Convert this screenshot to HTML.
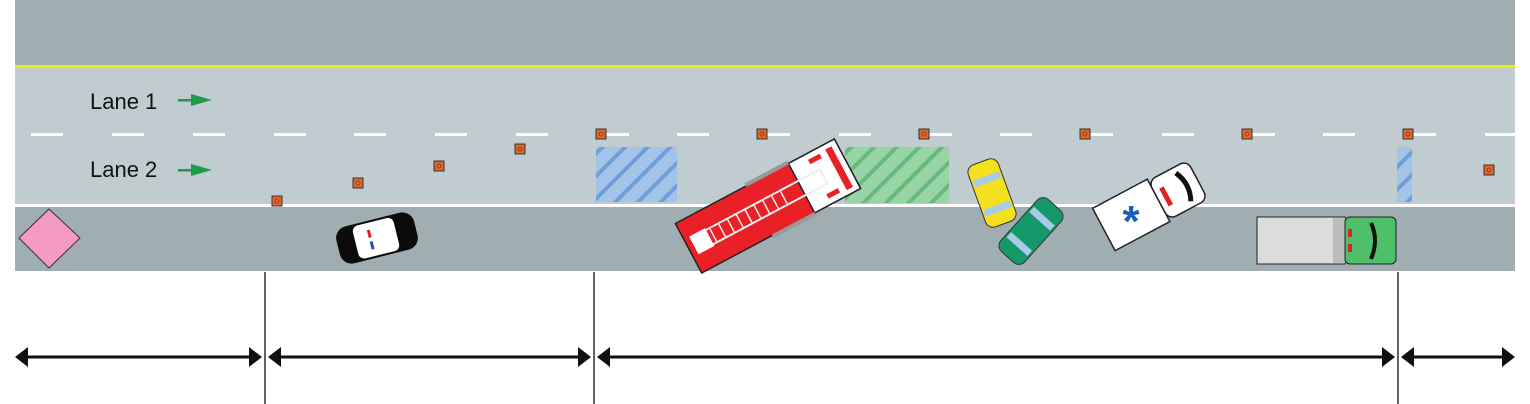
<!DOCTYPE html>
<html><head><meta charset="utf-8"><style>html,body{margin:0;padding:0;background:#fff;}svg{display:block}</style></head>
<body>
<svg width="1530" height="404" viewBox="0 0 1530 404" xmlns="http://www.w3.org/2000/svg">
<defs>
<pattern id="hb" patternUnits="userSpaceOnUse" width="16" height="16" patternTransform="rotate(45)">
<rect width="16" height="16" fill="#a3c4e8"/><rect width="4" height="16" fill="#6f9fd8"/></pattern>
<pattern id="hg" patternUnits="userSpaceOnUse" width="16" height="16" patternTransform="rotate(45)">
<rect width="16" height="16" fill="#98d4a6"/><rect width="4" height="16" fill="#66bb7a"/></pattern>
<g id="cone"><rect x="-5" y="-5" width="10" height="10" fill="#e0662a" stroke="#333" stroke-width="1"/><circle r="2" fill="none" stroke="#8a3a10" stroke-width="0.8"/></g>
</defs>
<rect x="15" y="0" width="1500" height="271" fill="#a0aeb2"/>
<rect x="15" y="65" width="1500" height="3" fill="#f5e90a"/>
<rect x="15" y="68" width="1500" height="136" fill="#c0ccd0"/>
<rect x="15" y="204" width="1500" height="3" fill="#ffffff"/>
<g fill="#fff">
<rect x="31" y="133" width="32" height="3"/><rect x="112" y="133" width="32" height="3"/><rect x="193" y="133" width="32" height="3"/><rect x="274" y="133" width="32" height="3"/><rect x="354" y="133" width="32" height="3"/><rect x="435" y="133" width="32" height="3"/><rect x="516" y="133" width="32" height="3"/><rect x="597" y="133" width="32" height="3"/><rect x="677" y="133" width="32" height="3"/><rect x="758" y="133" width="32" height="3"/><rect x="839" y="133" width="32" height="3"/><rect x="920" y="133" width="32" height="3"/><rect x="1000" y="133" width="32" height="3"/><rect x="1081" y="133" width="32" height="3"/><rect x="1162" y="133" width="32" height="3"/><rect x="1243" y="133" width="32" height="3"/><rect x="1323" y="133" width="32" height="3"/><rect x="1404" y="133" width="32" height="3"/><rect x="1485" y="133" width="30" height="3"/>
</g>
<text x="90" y="109" font-family="Liberation Sans, sans-serif" font-size="22" fill="#111">Lane 1</text>
<text x="90" y="177" font-family="Liberation Sans, sans-serif" font-size="22" fill="#111">Lane 2</text>
<g fill="#1e9a48"><rect x="178" y="99" width="14" height="2.5"/><polygon points="191,94 212,100 191,106"/><rect x="178" y="169" width="14" height="2.5"/><polygon points="191,164 212,170 191,176"/></g>
<polygon points="49,209 80,238 49,268 19,238" fill="#f59ac4" stroke="#333" stroke-width="1"/>
<rect x="596" y="147" width="81" height="55" fill="url(#hb)"/>
<rect x="845" y="147" width="104" height="56" fill="url(#hg)"/>
<rect x="1397" y="147" width="15" height="55" fill="url(#hb)"/>
<use href="#cone" x="277" y="201"/><use href="#cone" x="358" y="183"/><use href="#cone" x="439" y="166"/><use href="#cone" x="520" y="149"/><use href="#cone" x="601" y="134"/><use href="#cone" x="762" y="134"/><use href="#cone" x="924" y="134"/><use href="#cone" x="1085" y="134"/><use href="#cone" x="1247" y="134"/><use href="#cone" x="1408" y="134"/><use href="#cone" x="1489" y="170"/>
<!-- police car -->
<g transform="translate(377,238) rotate(-14)">
<rect x="-40" y="-19" width="80" height="38" rx="12" fill="#0b0b0b"/>
<rect x="-22" y="-17" width="42" height="34" rx="6" fill="#fff"/>
<rect x="-8" y="-10" width="3" height="8" fill="#d22"/><rect x="-8" y="2" width="3" height="8" fill="#1b4fb8"/>
</g>
<!-- fire truck -->
<g transform="translate(768,206) rotate(-28)">
<rect x="-90" y="-28" width="180" height="56" fill="#ea2027" stroke="#222" stroke-width="1.5"/>
<rect x="38" y="-28" width="52" height="56" fill="#fff" stroke="#222" stroke-width="1.5"/>
<rect x="-10" y="-31" width="48" height="4" fill="#999"/><rect x="-10" y="27" width="48" height="4" fill="#999"/>
<rect x="-72" y="-8" width="135" height="16" fill="none" stroke="#eee" stroke-width="2"/>
<g stroke="#eee" stroke-width="1.5"><line x1="-62" y1="-8" x2="-62" y2="8"/><line x1="-52" y1="-8" x2="-52" y2="8"/><line x1="-42" y1="-8" x2="-42" y2="8"/><line x1="-32" y1="-8" x2="-32" y2="8"/><line x1="-22" y1="-8" x2="-22" y2="8"/><line x1="-12" y1="-8" x2="-12" y2="8"/><line x1="-2" y1="-8" x2="-2" y2="8"/><line x1="8" y1="-8" x2="8" y2="8"/><line x1="18" y1="-8" x2="18" y2="8"/></g>
<rect x="-84" y="-10" width="18" height="20" fill="#fff"/>
<rect x="77" y="-23" width="7" height="46" fill="#ea2027"/><rect x="57" y="-22" width="13" height="5" fill="#ea2027"/><rect x="57" y="17" width="13" height="5" fill="#ea2027"/>
</g>
<!-- yellow car -->
<g transform="translate(992,193) rotate(-20)">
<rect x="-16" y="-33" width="32" height="66" rx="8" fill="#f5e020" stroke="#333" stroke-width="1"/>
<rect x="-14" y="-18" width="28" height="7" fill="#a7cbe8"/><rect x="-14" y="13" width="28" height="7" fill="#a7cbe8"/>
</g>
<!-- green car -->
<g transform="translate(1031,231) rotate(42)">
<rect x="-16" y="-35" width="32" height="70" rx="8" fill="#16996a" stroke="#333" stroke-width="1"/>
<rect x="-14" y="-20" width="28" height="7" fill="#a7cbe8"/><rect x="-14" y="14" width="28" height="7" fill="#a7cbe8"/>
</g>
<!-- ambulance -->
<g transform="translate(1148,206) rotate(-28)">
<rect x="-50" y="-24" width="62" height="48" fill="#fff" stroke="#222" stroke-width="1.5"/>
<rect x="12" y="-22" width="44" height="44" rx="8" fill="#fff" stroke="#222" stroke-width="1.5"/>
<path d="M40,-16 Q48,0 40,16" fill="none" stroke="#111" stroke-width="5"/>
<rect x="18" y="-10" width="5" height="20" fill="#d22"/>
</g>
<text x="1131" y="236" font-family="Liberation Sans, sans-serif" font-size="44" font-weight="bold" fill="#1b5fb8" text-anchor="middle">*</text>
<!-- tow truck -->
<rect x="1257" y="217" width="88" height="47" fill="#dcdcdc" stroke="#222" stroke-width="1"/>
<rect x="1333" y="218" width="12" height="45" fill="#bcbcbc"/>
<rect x="1345" y="217" width="51" height="47" rx="5" fill="#4fbf6a" stroke="#222" stroke-width="1"/>
<path d="M1371,223 Q1379,240 1371,259" fill="none" stroke="#111" stroke-width="4"/>
<rect x="1348" y="229" width="4" height="8" fill="#d22"/><rect x="1348" y="244" width="4" height="8" fill="#d22"/>
<!-- dimension lines -->
<g stroke="#111" stroke-width="1.3"><line x1="265" y1="272" x2="265" y2="404"/><line x1="594" y1="272" x2="594" y2="404"/><line x1="1398" y1="272" x2="1398" y2="404"/></g>
<g stroke="#111" stroke-width="3"><line x1="22" y1="357" x2="255" y2="357"/><line x1="275" y1="357" x2="584" y2="357"/><line x1="604" y1="357" x2="1388" y2="357"/><line x1="1408" y1="357" x2="1508" y2="357"/></g>
<g fill="#111">
<polygon points="15,357 28,347 28,367"/><polygon points="262,357 249,347 249,367"/>
<polygon points="268,357 281,347 281,367"/><polygon points="591,357 578,347 578,367"/>
<polygon points="597,357 610,347 610,367"/><polygon points="1395,357 1382,347 1382,367"/>
<polygon points="1401,357 1414,347 1414,367"/><polygon points="1515,357 1502,347 1502,367"/>
</g>
</svg>
</body></html>
